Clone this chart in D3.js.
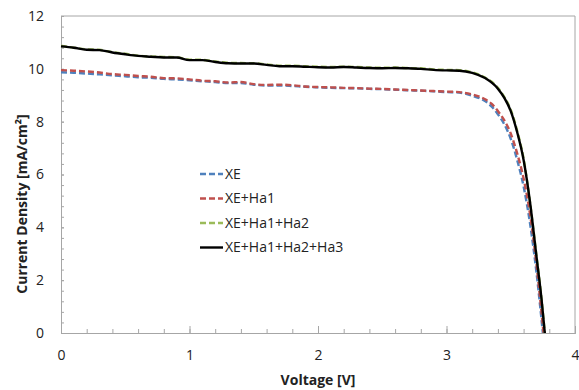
<!DOCTYPE html>
<html lang="en">
<head>
<meta charset="UTF-8">
<title>J-V curves</title>
<script src="https://d3js.org/d3.v7.min.js"></script>
<style>
  body { margin: 0; background: #fff; }
  svg text { font-family: 'Open Sans', 'Liberation Sans', sans-serif; fill: #222; }
  .tick-label { font-size: 14px; }
  .axis-title { font-size: 14px; font-weight: bold; }
  .legend text { font-size: 14px; }
</style>
</head>
<body>
<div id="chart"></div>
<script>
// voltage [V] / current density [mA/cm2]
const vXE = [0,0.1,0.2,0.3,0.4,0.5,0.6,0.7,0.8,0.9,1.0,1.1,1.2,1.3,1.4,1.5,1.6,1.7,1.8,1.9,2.0,2.1,2.2,2.3,2.4,2.5,2.6,2.7,2.8,2.9,3.0,3.1,3.2,3.3,3.35,3.4,3.45,3.5,3.55,3.6,3.65,3.7,3.75];
const jXE = [9.87,9.85,9.82,9.79,9.75,9.72,9.68,9.66,9.62,9.6,9.57,9.53,9.5,9.46,9.46,9.4,9.37,9.37,9.35,9.32,9.3,9.28,9.27,9.26,9.24,9.23,9.21,9.19,9.17,9.15,9.12,9.1,8.98,8.78,8.58,8.28,7.9,7.35,6.55,5.55,4.15,2.3,0];

const vHa1 = [0,0.1,0.2,0.3,0.4,0.5,0.6,0.7,0.8,0.9,1.0,1.1,1.2,1.3,1.4,1.5,1.6,1.7,1.8,1.9,2.0,2.1,2.2,2.3,2.4,2.5,2.6,2.7,2.8,2.9,3.0,3.1,3.2,3.3,3.35,3.4,3.45,3.5,3.55,3.6,3.65,3.7,3.755];
const jHa1 = [9.95,9.93,9.9,9.86,9.8,9.77,9.73,9.7,9.65,9.64,9.6,9.55,9.53,9.48,9.5,9.42,9.39,9.4,9.38,9.33,9.31,9.3,9.28,9.27,9.25,9.24,9.22,9.2,9.18,9.16,9.14,9.12,9.03,8.85,8.68,8.4,8.05,7.55,6.8,5.85,4.5,2.6,0];

const vHa2 = [0,0.1,0.2,0.3,0.4,0.5,0.6,0.7,0.8,0.9,1.0,1.1,1.2,1.3,1.4,1.5,1.6,1.7,1.8,1.9,2.0,2.1,2.2,2.3,2.4,2.5,2.6,2.7,2.8,2.9,3.0,3.1,3.2,3.3,3.4,3.45,3.5,3.55,3.6,3.65,3.7,3.74,3.765];
const jHa2 = [10.87,10.8,10.74,10.72,10.63,10.57,10.5,10.47,10.45,10.44,10.35,10.34,10.28,10.23,10.22,10.21,10.17,10.12,10.12,10.1,10.08,10.07,10.08,10.07,10.05,10.04,10.05,10.03,10.02,9.98,9.96,9.95,9.87,9.67,9.28,8.93,8.45,7.65,6.6,4.95,2.95,1.28,0];

const vHa3 = [0,0.1,0.2,0.3,0.4,0.5,0.6,0.7,0.8,0.9,1.0,1.1,1.2,1.3,1.4,1.5,1.6,1.7,1.8,1.9,2.0,2.1,2.2,2.3,2.4,2.5,2.6,2.7,2.8,2.9,3.0,3.1,3.2,3.3,3.4,3.45,3.5,3.55,3.6,3.65,3.7,3.74,3.765];
const jHa3 = [10.85,10.8,10.72,10.71,10.62,10.55,10.49,10.46,10.43,10.43,10.33,10.33,10.26,10.21,10.2,10.2,10.15,10.1,10.1,10.08,10.06,10.05,10.07,10.05,10.03,10.02,10.03,10.02,10.0,9.96,9.94,9.93,9.85,9.65,9.25,8.9,8.4,7.6,6.55,4.95,2.9,1.25,0];

const seriesNames = ["XE", "XE+Ha1", "XE+Ha1+Ha2", "XE+Ha1+Ha2+Ha3"];
const seriesColors = ["#4f81bd", "#c0504d", "#9bbb59", "#000000"];
const xTicks = [0, 1, 2, 3, 4];
const yTicks = [0, 2, 4, 6, 8, 10, 12];

const W = 579, H = 390;
const plot = { left: 61, right: 575, top: 16, bottom: 333 };

const svg = d3.select("#chart").append("svg")
  .attr("width", W).attr("height", H);

const x = d3.scaleLinear().domain([0, 4]).range([plot.left, plot.right]);
const y = d3.scaleLinear().domain([0, 12]).range([plot.bottom, plot.top]);

// plot area border (top & right)
svg.append("path")
  .attr("d", `M${plot.left},${plot.top}H${plot.right}V${plot.bottom}`)
  .attr("fill", "none").attr("stroke", "#a6a6a6").attr("stroke-width", 1);

// x axis: minor ticks every 0.2, major every 1
const xMinor = d3.range(0, 4.001, 0.2).map(d => +d.toFixed(1));
const gxMinor = svg.append("g")
  .attr("transform", `translate(0,${plot.bottom})`)
  .call(d3.axisBottom(x).tickValues(xMinor).tickSize(-4).tickFormat(""));
const gx = svg.append("g")
  .attr("transform", `translate(0,${plot.bottom})`)
  .call(d3.axisBottom(x).tickValues(xTicks).tickSize(-7).tickPadding(20).tickFormat(d3.format("d")));

// y axis: minor ticks every 0.4
const yMinor = d3.range(0, 12.001, 0.4).map(d => +d.toFixed(1));
const gyMinor = svg.append("g")
  .attr("transform", `translate(${plot.left},0)`)
  .call(d3.axisLeft(y).tickValues(yMinor).tickSize(-3).tickFormat(""));
const gy = svg.append("g")
  .attr("transform", `translate(${plot.left},0)`)
  .call(d3.axisLeft(y).tickValues(yTicks).tickSize(-3).tickPadding(17).tickFormat(d3.format("d")));

[gxMinor, gx, gyMinor, gy].forEach(g => {
  g.select(".domain").attr("stroke", "#a6a6a6");
  g.selectAll(".tick line").attr("stroke", "#a6a6a6");
  g.selectAll(".tick text").attr("class", "tick-label").attr("fill", "#222");
});
gx.selectAll(".tick text").attr("dy", "0.5em");

// lines
const series = [
  { v: vXE, j: jXE, dash: "6,3", width: 2.4 },
  { v: vHa1, j: jHa1, dash: "6,3", width: 2.4 },
  { v: vHa2, j: jHa2, dash: "6,3", width: 2.4 },
  { v: vHa3, j: jHa3, dash: null, width: 2.4 }
];

const line = d3.line()
  .x(d => x(d[0]))
  .y(d => y(d[1]))
  .curve(d3.curveMonotoneX);

series.forEach((s, i) => {
  svg.append("path")
    .datum(s.v.map((v, k) => [v, s.j[k]]))
    .attr("fill", "none")
    .attr("stroke", seriesColors[i])
    .attr("stroke-width", s.width)
    .attr("stroke-dasharray", s.dash)
    .attr("d", line);
});

// legend
const legend = svg.append("g").attr("class", "legend")
  .attr("transform", "translate(200,174)");
seriesNames.forEach((name, i) => {
  const row = legend.append("g").attr("transform", `translate(0,${i * 24.5})`);
  row.append("line")
    .attr("x1", 0).attr("x2", 23).attr("y1", 0).attr("y2", 0)
    .attr("stroke", seriesColors[i])
    .attr("stroke-width", 2.4)
    .attr("stroke-dasharray", series[i].dash);
  row.append("text")
    .attr("x", 25).attr("y", 0).attr("dy", "0.35em")
    .text(name);
});

// axis titles
svg.append("text").attr("class", "axis-title")
  .attr("text-anchor", "middle")
  .attr("x", (plot.left + plot.right) / 2).attr("y", 385)
  .text("Voltage [V]");

svg.append("text").attr("class", "axis-title")
  .attr("text-anchor", "middle")
  .attr("transform", "translate(27,204) rotate(-90)")
  .text("Current Density [mA/cm²]");
</script>
</body>
</html>
